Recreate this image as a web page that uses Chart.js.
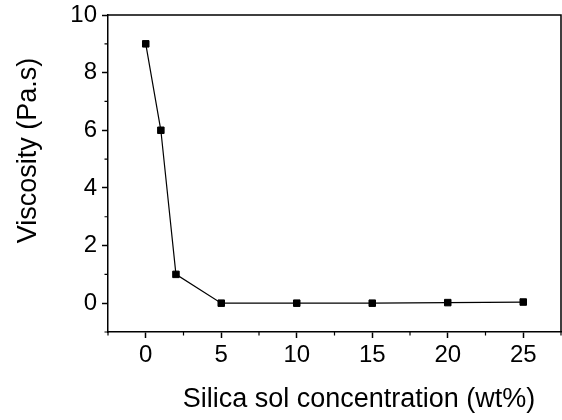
<!DOCTYPE html>
<html>
<head>
<meta charset="utf-8">
<script src="https://cdn.jsdelivr.net/npm/chart.js@4/dist/chart.umd.min.js"></script>
<style>
  html, body { margin: 0; padding: 0; background: #fff; }
  canvas { display: block; }
</style>
</head>
<body>
<canvas id="c" width="562" height="420"></canvas>
<script>
// ---- data ----
const concentration = [0, 1, 2, 5, 10, 15, 20, 25];
const viscosity = [9, 6, 1, 0, 0, 0, 0.02, 0.04];
const xTickValues = [0, 5, 10, 15, 20, 25];
const yTickValues = [0, 2, 4, 6, 8, 10];
const xMinorValues = [-2.5, 2.5, 7.5, 12.5, 17.5, 22.5, 27.5];
const yMinorValues = [-1, 1, 3, 5, 7, 9];
const xTitle = 'Silica sol concentration (wt%)';
const yTitle = 'Viscosity (Pa.s)';

const FONT = "'Liberation Sans', Arial, Helvetica, sans-serif";

const framePlugin = {
  id: 'frame',
  afterDraw(chart) {
    const ctx = chart.ctx;
    const a = chart.chartArea;
    const xs = chart.scales.x, ys = chart.scales.y;
    ctx.save();
    ctx.strokeStyle = '#000';
    ctx.lineWidth = 1.5;
    ctx.beginPath();
    ctx.moveTo(a.left, a.top);
    ctx.lineTo(a.right, a.top);
    ctx.lineTo(a.right, a.bottom);
    ctx.stroke();
    // minor ticks
    ctx.lineWidth = 1.2;
    ctx.beginPath();
    xMinorValues.forEach(v => {
      const px = xs.getPixelForValue(v);
      ctx.moveTo(px, a.bottom);
      ctx.lineTo(px, a.bottom + 3.5);
    });
    yMinorValues.forEach(v => {
      const py = ys.getPixelForValue(v);
      ctx.moveTo(a.left, py);
      ctx.lineTo(a.left - 3.5, py);
    });
    ctx.stroke();
    // axis titles
    ctx.fillStyle = '#000';
    ctx.font = '27px ' + FONT;
    ctx.textAlign = 'center';
    ctx.textBaseline = 'middle';
    ctx.fillText(xTitle, 359, 400);
    ctx.translate(28.5, 150.5);
    ctx.rotate(-Math.PI / 2);
    ctx.fillText(yTitle, 0, 0);
    ctx.restore();
  }
};

new Chart(document.getElementById('c'), {
  type: 'scatter',
  data: {
    datasets: [{
      data: concentration.map((x, i) => ({ x: x, y: viscosity[i] })),
      showLine: true,
      borderColor: '#000',
      borderWidth: 1.2,
      backgroundColor: '#000',
      pointStyle: 'rect',
      pointRadius: 4.6,
      pointBorderWidth: 1,
      pointBackgroundColor: '#000',
      pointBorderColor: '#000',
      tension: 0
    }]
  },
  options: {
    responsive: false,
    devicePixelRatio: 1,
    animation: false,
    layout: { autoPadding: false, padding: { top: 15, right: 1, left: 0, bottom: 0 } },
    plugins: { legend: { display: false }, tooltip: { enabled: false } },
    scales: {
      x: {
        type: 'linear',
        min: -2.5,
        max: 27.5,
        afterBuildTicks: s => { s.ticks = xTickValues.map(v => ({ value: v })); },
        afterFit: s => { s.height = 88; s.paddingLeft = 0; s.paddingRight = 0; },
        grid: { drawOnChartArea: false, drawTicks: true, tickLength: 6, tickColor: '#000', tickWidth: 1.5 },
        border: { display: true, color: '#000', width: 1.5 },
        ticks: { color: '#000', font: { family: FONT, size: 24 }, padding: 3, maxRotation: 0 }
      },
      y: {
        type: 'linear',
        min: -1,
        max: 10,
        afterBuildTicks: s => { s.ticks = yTickValues.map(v => ({ value: v })); },
        afterFit: s => { s.width = 108; s.paddingTop = 0; s.paddingBottom = 0; },
        grid: { drawOnChartArea: false, drawTicks: true, tickLength: 6, tickColor: '#000', tickWidth: 1.5 },
        border: { display: true, color: '#000', width: 1.5 },
        ticks: { color: '#000', font: { family: FONT, size: 24 }, padding: 5 }
      }
    }
  },
  plugins: [framePlugin]
});
</script>
</body>
</html>
